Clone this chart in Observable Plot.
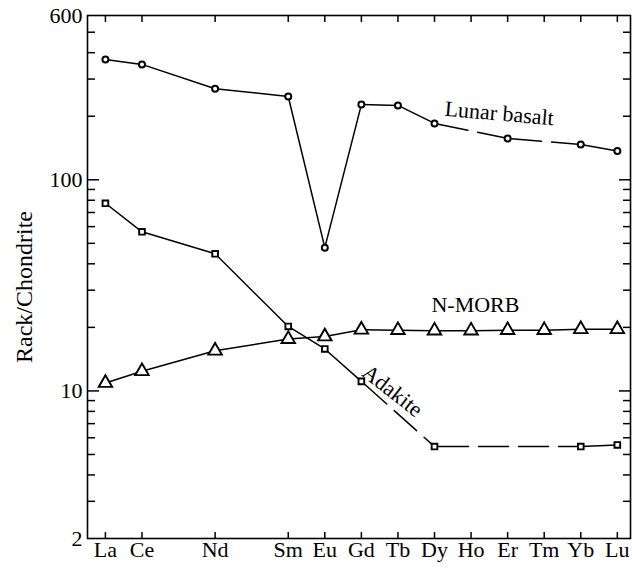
<!DOCTYPE html>
<html>
<head>
<meta charset="utf-8">
<script src="https://cdn.jsdelivr.net/npm/d3@7"></script>
<script src="https://cdn.jsdelivr.net/npm/@observablehq/plot@0.6"></script>
<style>
  html, body { margin: 0; padding: 0; background: #fff; }
</style>
</head>
<body>
<div id="chart"></div>
<script>
// REE order (Pr and Pm keep their slots but are not labelled)
const elements = ["La","Ce","Pr","Nd","Pm","Sm","Eu","Gd","Tb","Dy","Ho","Er","Tm","Yb","Lu"];
const tickLabels = ["La","Ce","Nd","Sm","Eu","Gd","Tb","Dy","Ho","Er","Tm","Yb","Lu"];

const lunarElements = ["La","Ce","Nd","Sm","Eu","Gd","Tb","Dy","Er","Yb","Lu"];
const lunarValues   = [371, 352, 270, 248, 47.7, 227, 225, 185, 157, 147, 137];

const adakiteElements = ["La","Ce","Nd","Sm","Eu","Gd","Dy","Yb","Lu"];
const adakiteValues   = [77.4, 56.7, 44.6, 20.2, 15.8, 11.1, 5.45, 5.45, 5.55];

const morbElements = ["La","Ce","Nd","Sm","Eu","Gd","Tb","Dy","Ho","Er","Tm","Yb","Lu"];
const morbValues   = [10.9, 12.4, 15.5, 17.6, 18.1, 19.5, 19.4, 19.3, 19.3, 19.4, 19.4, 19.6, 19.6];

const yLabelTicks = [2, 10, 100, 600];
const yMajorTicks = [10, 100];
const yMinorTicks = [3,4,5,6,7,8,9,20,30,40,50,60,70,80,90,200,300,400,500];

const yLabel = "Rack/Chondrite";
const annotations = [
  {text: "Lunar basalt", element: 10.77, value: 206, angle: 5},
  {text: "N-MORB", element: 10.12, value: 25.5, angle: 0},
  {text: "Adakite", element: 7.85, value: 10.0, angle: 38}
];

const idx = e => elements.indexOf(e);
const labelIdx = tickLabels.map(idx);

function points(els, vals, name) {
  return els.map((e, i) => ({series: name, x: idx(e), y: vals[i]}));
}
function segments(els, vals, name) {
  const out = [];
  for (let i = 0; i < els.length - 1; i++) {
    const a = idx(els[i]), b = idx(els[i + 1]);
    const dashed = elements.slice(a + 1, b).some(e => tickLabels.includes(e));
    const seg = name + i;
    out.push({seg, x: a, y: vals[i], dashed}, {seg, x: b, y: vals[i + 1], dashed});
  }
  return out;
}

const segs = [
  ...segments(lunarElements, lunarValues, "L"),
  ...segments(adakiteElements, adakiteValues, "A"),
  ...segments(morbElements, morbValues, "M")
];

const font = "'Liberation Serif', 'Times New Roman', Times, serif";
const blank = () => "";

const chart = Plot.plot({
  width: 632,
  height: 569,
  marginLeft: 87,
  marginRight: 2,
  marginTop: 15,
  marginBottom: 31,
  style: {fontFamily: font, background: "white", color: "black"},
  x: {type: "linear", domain: [-0.49, 14.36]},
  y: {type: "log", domain: [2, 600]},
  marks: [
    // y tick labels (left)
    Plot.text(yLabelTicks, {y: d => d, text: d => String(d), frameAnchor: "left", textAnchor: "end", lineAnchor: "middle", dx: -5, fontSize: 22, fontFamily: font, fill: "black"}),
    // y ticks (left & right, inward)
    Plot.axisY({ticks: yMajorTicks, tickSize: -12, tickFormat: blank, label: null, strokeWidth: 1.5}),
    Plot.axisY({ticks: yMinorTicks, tickSize: -8, tickFormat: blank, label: null, strokeWidth: 1.5}),
    Plot.axisY({anchor: "right", ticks: yMajorTicks, tickSize: -12, tickFormat: blank, label: null, strokeWidth: 1.5}),
    Plot.axisY({anchor: "right", ticks: yMinorTicks, tickSize: -8, tickFormat: blank, label: null, strokeWidth: 1.5}),
    // x axis (bottom labels, inward ticks top and bottom)
    Plot.axisX({ticks: labelIdx, tickSize: 0, tickPadding: 3, tickFormat: i => elements[i], fontSize: 22, fontFamily: font, label: null}),
    Plot.axisX({ticks: labelIdx, tickSize: -6, tickFormat: blank, label: null, strokeWidth: 1.5}),
    Plot.axisX({anchor: "top", ticks: labelIdx, tickSize: -6, tickFormat: blank, label: null, strokeWidth: 1.5}),
    Plot.frame({stroke: "black", strokeWidth: 1.6}),
    // lines
    Plot.line(segs.filter(d => !d.dashed), {x: "x", y: "y", z: "seg", stroke: "black", strokeWidth: 1.5, strokeLinecap: "round"}),
    Plot.line(segs.filter(d => d.dashed), {x: "x", y: "y", z: "seg", stroke: "black", strokeWidth: 1.5, strokeDasharray: "30,10", strokeDashoffset: -4}),
    // markers
    Plot.dot(points(lunarElements, lunarValues, "Lunar basalt"), {x: "x", y: "y", symbol: "circle", r: 3, fill: "white", stroke: "black", strokeWidth: 2}),
    Plot.dot(points(adakiteElements, adakiteValues, "Adakite"), {x: "x", y: "y", symbol: "square", r: 3.2, fill: "white", stroke: "black", strokeWidth: 1.9}),
    Plot.dot(points(morbElements, morbValues, "N-MORB"), {x: "x", y: "y", symbol: "triangle", r: 5, fill: "white", stroke: "black", strokeWidth: 1.9}),
    // annotations
    Plot.text(annotations, {x: "element", y: "value", text: "text", rotate: "angle", fontSize: 22, fontFamily: font, fill: "black"}),
    // y label
    Plot.text([yLabel], {text: d => d, frameAnchor: "left", textAnchor: "middle", lineAnchor: "middle", dx: -63, dy: 10, rotate: -90, fontSize: 24, fontFamily: font, fill: "black"})
  ]
});

document.getElementById("chart").appendChild(chart);
</script>
</body>
</html>
